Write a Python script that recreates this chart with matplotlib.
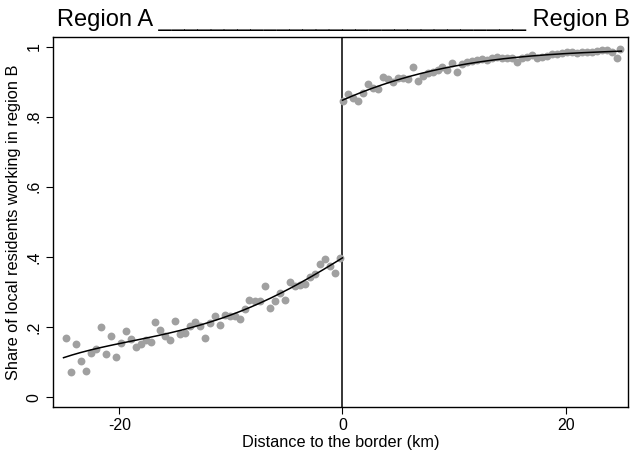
import numpy as np
from matplotlib import pyplot as plt

plt.rcParams['font.family'] = ['Liberation Sans', 'DejaVu Sans']

# binned means, region A side (distance < 0)
left_x = [-24.80, -24.35, -23.90, -23.45, -23.00, -22.56, -22.11, -21.66, -21.21, -20.76,
          -20.31, -19.87, -19.42, -18.97, -18.52, -18.07, -17.62, -17.18, -16.82, -16.37,
          -15.92, -15.47, -15.02, -14.57, -14.13, -13.68, -13.23, -12.78, -12.33, -11.88,
          -11.43, -10.99, -10.54, -10.09, -9.64, -9.19, -8.74, -8.39, -7.85, -7.40,
          -6.95, -6.50, -6.05, -5.61, -5.16, -4.71, -4.26, -3.81, -3.36, -2.91,
          -2.47, -2.02, -1.57, -1.12, -0.67, -0.22]
left_y = [0.169, 0.072, 0.152, 0.103, 0.075, 0.126, 0.138, 0.201, 0.123, 0.175,
          0.115, 0.155, 0.189, 0.166, 0.143, 0.152, 0.164, 0.158, 0.215, 0.192,
          0.175, 0.164, 0.218, 0.181, 0.184, 0.204, 0.215, 0.204, 0.169, 0.212,
          0.232, 0.207, 0.235, 0.230, 0.230, 0.224, 0.250, 0.278, 0.275, 0.275,
          0.316, 0.253, 0.273, 0.296, 0.278, 0.327, 0.316, 0.321, 0.324, 0.344,
          0.350, 0.379, 0.393, 0.373, 0.353, 0.396]

# binned means, region B side (distance > 0)
right_x = [0.04, 0.49, 0.94, 1.39, 1.84, 2.29, 2.74, 3.18, 3.63, 4.08,
           4.53, 4.98, 5.43, 5.87, 6.32, 6.77, 7.22, 7.67, 8.12, 8.57,
           8.92, 9.37, 9.82, 10.27, 10.72, 11.17, 11.61, 12.06, 12.51, 12.96,
           13.41, 13.86, 14.30, 14.75, 15.20, 15.65, 16.10, 16.55, 17.00, 17.44,
           17.89, 18.34, 18.79, 19.24, 19.69, 20.13, 20.58, 21.03, 21.48, 21.93,
           22.38, 22.83, 23.27, 23.72, 24.17, 24.62, 24.89]
right_y = [0.846, 0.864, 0.852, 0.846, 0.869, 0.892, 0.881, 0.878, 0.912, 0.907,
           0.898, 0.910, 0.910, 0.907, 0.941, 0.901, 0.915, 0.924, 0.927, 0.933,
           0.941, 0.933, 0.953, 0.927, 0.950, 0.955, 0.958, 0.961, 0.964, 0.961,
           0.967, 0.970, 0.967, 0.967, 0.967, 0.955, 0.967, 0.970, 0.976, 0.967,
           0.970, 0.973, 0.979, 0.979, 0.982, 0.985, 0.985, 0.982, 0.985, 0.985,
           0.985, 0.987, 0.990, 0.990, 0.985, 0.967, 0.994]

y_ticks = [0, 0.2, 0.4, 0.6, 0.8, 1]
y_labels = ['0', '.2', '.4', '.6', '.8', '1']
x_ticks = [-20, 0, 20]

fig = plt.figure(figsize=(6.3, 4.53), dpi=100)
ax = fig.add_axes([0.084, 0.101, 0.913, 0.817])

ax.scatter(left_x, left_y, s=32, color='#a0a0a0', linewidths=0, zorder=2)
ax.scatter(right_x, right_y, s=32, color='#a0a0a0', linewidths=0, zorder=2)

# polynomial fits on each side of the border
xl = np.linspace(-25, 0, 200)
ax.plot(xl, np.polyval(np.polyfit(left_x, left_y, 4), xl), color='black', lw=1.1, zorder=3)
xr = np.linspace(0, 25, 200)
ax.plot(xr, np.polyval(np.polyfit(right_x, right_y, 3), xr), color='black', lw=1.1, zorder=3)

ax.axvline(0, color='black', lw=1.1, zorder=1)

ax.set_xlim(-25.95, 25.6)
ax.set_ylim(-0.029, 1.027)
ax.set_xticks(x_ticks)
ax.set_xticklabels([str(t) for t in x_ticks])
ax.set_yticks(y_ticks)
ax.set_yticklabels(y_labels, rotation=90, va='center')
ax.tick_params(labelsize=11.5, length=5, width=0.8, pad=3)
for s in ax.spines.values():
    s.set_linewidth(1.0)

ax.set_xlabel('Distance to the border (km)', fontsize=11.7, labelpad=1)
ax.set_ylabel('Share of local residents working in region B', fontsize=11.8, labelpad=4)

fig.text(57 / 630, 0.956, 'Region A ' + '_' * 28 + ' Region B', fontsize=17,
         ha='left', va='center')

fig.savefig('out.png', dpi=100)
